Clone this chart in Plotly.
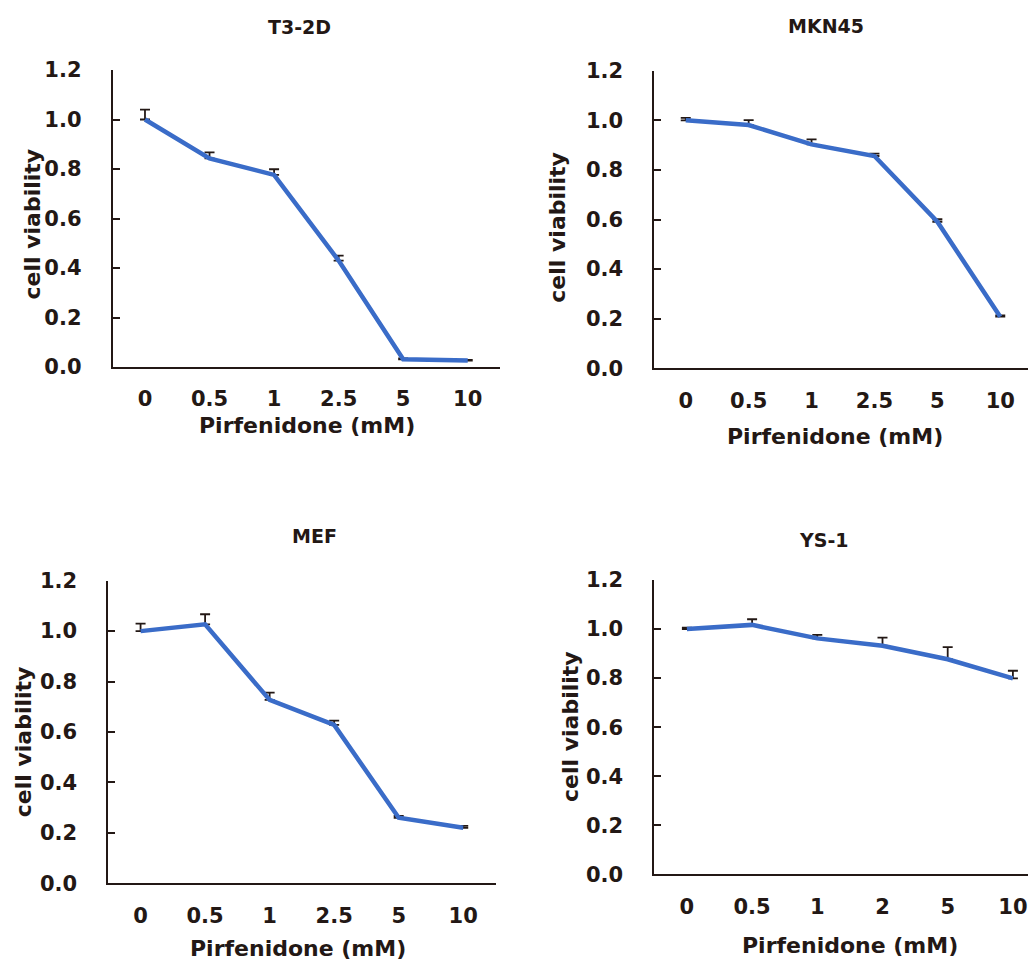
import plotly.graph_objects as go

W, H = 1036, 961
OFF = 8  # page body margin offset compensation (pixels)

# ---- data ----
cats_a = ["0", "0.5", "1", "2.5", "5", "10"]
cats_ys1 = ["0", "0.5", "1", "2", "5", "10"]

t32d_vals = [1.00, 0.843, 0.776, 0.43, 0.031, 0.026]
t32d_err = [0.04, 0.024, 0.023, 0.02, 0.004, 0.003]

mkn45_vals = [1.00, 0.981, 0.903, 0.856, 0.591, 0.208]
mkn45_err = [0.01, 0.02, 0.02, 0.01, 0.01, 0.005]

mef_vals = [1.00, 1.027, 0.727, 0.628, 0.260, 0.220]
mef_err = [0.03, 0.04, 0.029, 0.017, 0.007, 0.008]

ys1_vals = [1.00, 1.017, 0.962, 0.932, 0.877, 0.799]
ys1_err = [0.006, 0.023, 0.014, 0.033, 0.049, 0.031]

titles = ["T3-2D", "MKN45", "MEF", "YS-1"]
x_title = "Pirfenidone (mM)"
y_title = "cell viability"
y_ticks = [0.0, 0.2, 0.4, 0.6, 0.8, 1.0, 1.2]

# ---- layout geometry (target pixels in the 1036x961 picture) ----
panels = [
    dict(cats=cats_a, vals=t32d_vals, err=t32d_err, x0=112.7, x1=500.0, ytop=70.0, ybot=367.0,
         title_xy=(299, 26.7), xt_xy=(306.7, 425), yt_xy=(32.5, 224)),
    dict(cats=cats_a, vals=mkn45_vals, err=mkn45_err, x0=654.3, x1=1031.7, ytop=70.7, ybot=368.3,
         title_xy=(825.5, 25.8), xt_xy=(835, 436.7), yt_xy=(558, 227.7)),
    dict(cats=cats_a, vals=mef_vals, err=mef_err, x0=108.3, x1=495.5, ytop=580.7, ybot=883.3,
         title_xy=(314.7, 535.5), xt_xy=(298, 948.3), yt_xy=(23.3, 742)),
    dict(cats=cats_ys1, vals=ys1_vals, err=ys1_err, x0=654.3, x1=1044.0, ytop=580.0, ybot=874.3,
         title_xy=(824.3, 539.5), xt_xy=(850, 945), yt_xy=(570, 727), step=65.2),
]

INK = "#231815"
BLUE = "#3A6CC8"
FONT = "DejaVu Sans"


def px(x):
    return (x - OFF) / W


def py(y):
    return 1 - (y - OFF) / H


fig = go.Figure()
annotations = []
for i, p in enumerate(panels):
    n = "" if i == 0 else str(i + 1)
    fig.add_trace(go.Scatter(
        x=p["cats"], y=p["vals"], mode="lines",
        line=dict(color=BLUE, width=4.5),
        error_y=dict(type="data", symmetric=False, array=p["err"],
                     arrayminus=[0] * len(p["err"]), color=INK, thickness=1.8, width=5),
        xaxis="x" + n, yaxis="y" + n, showlegend=False,
    ))
    d0, d1 = px(p["x0"]), min(px(p["x1"]), 1.0)
    if "step" in p:
        xr = [-0.5, -0.5 + (d1 - d0) * W / p["step"]]
    else:
        xr = [-0.5, 5.5]
    fig.layout["xaxis" + n] = dict(
        domain=[d0, d1], anchor="y" + n, type="category",
        categoryorder="array", categoryarray=p["cats"], range=xr,
        showline=True, linecolor=INK, linewidth=2, ticks="", showgrid=False, zeroline=False,
        tickfont=dict(family=FONT, size=21, color=INK, weight="bold"),
        ticklabelstandoff=12, fixedrange=True, automargin=False,
    )
    fig.layout["yaxis" + n] = dict(
        domain=[py(p["ybot"]), py(p["ytop"])], anchor="x" + n, range=[0, 1.2],
        tickvals=y_ticks, tickformat=".1f",
        showline=True, linecolor=INK, linewidth=2, ticks="inside", ticklen=7, tickwidth=2,
        tickcolor=INK, showgrid=False, zeroline=False,
        tickfont=dict(family=FONT, size=21, color=INK, weight="bold"),
        ticklabelstandoff=25, fixedrange=True, automargin=False,
    )
    tx, ty = p["title_xy"]
    annotations.append(dict(text=titles[i], x=px(tx), y=py(ty), xref="paper", yref="paper",
                            xanchor="center", yanchor="middle", showarrow=False,
                            font=dict(family=FONT, size=19, color=INK, weight="bold")))
    ax, ay = p["xt_xy"]
    annotations.append(dict(text=x_title, x=px(ax), y=py(ay), xref="paper", yref="paper",
                            xanchor="center", yanchor="middle", showarrow=False,
                            font=dict(family=FONT, size=22, color=INK, weight="bold")))
    bx, by = p["yt_xy"]
    annotations.append(dict(text=y_title, x=px(bx), y=py(by), xref="paper", yref="paper",
                            xanchor="center", yanchor="middle", showarrow=False, textangle=-90,
                            font=dict(family=FONT, size=22, color=INK, weight="bold")))

fig.update_layout(
    width=W, height=H, margin=dict(l=0, r=0, t=0, b=0, autoexpand=False),
    autosize=False,
    paper_bgcolor="white", plot_bgcolor="white",
    annotations=annotations,
)

fig.write_html("out.html", config={"displayModeBar": False})
